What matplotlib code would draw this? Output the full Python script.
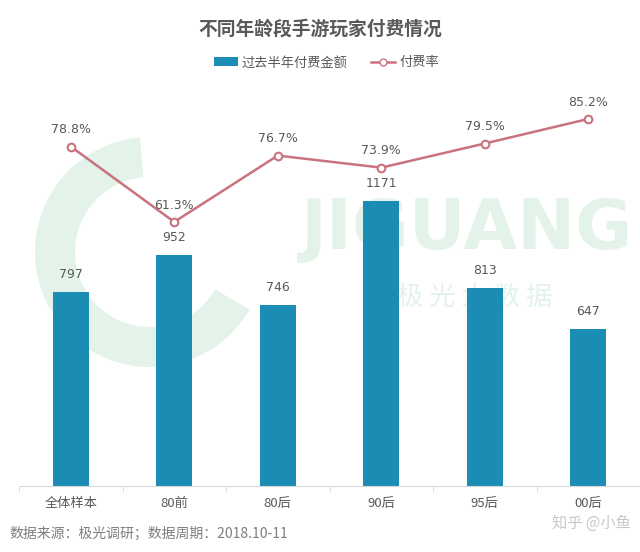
import matplotlib
matplotlib.use("Agg")
import matplotlib.pyplot as plt
from matplotlib.patches import Wedge
from matplotlib.lines import Line2D
from matplotlib.patches import Patch

plt.rcParams['font.family'] = ['Noto Sans CJK SC', 'DejaVu Sans']

# data
categories = ['全体样本', '80前', '80后', '90后', '95后', '00后']
pay_amount = [797, 952, 746, 1171, 813, 647]
pay_rate = [78.8, 61.3, 76.7, 73.9, 79.5, 85.2]

bar_color = '#1b8db4'
line_color = '#c8737e'
text_gray = '#595959'
mark_green = '#e4f3e9'

fig = plt.figure(figsize=(6.4, 5.52), dpi=100)
fig.patch.set_facecolor('white')

ax = fig.add_axes([19 / 640, 66 / 552, 621 / 640, 386 / 552])
ax.set_facecolor('none')
x = list(range(len(categories)))

# faint watermark, kept behind the bars
ring = Wedge((150, 300), 115, 95, 330, width=40, transform=None,
             facecolor=mark_green, edgecolor='none', zorder=0.5, clip_on=False)
ax.add_artist(ring)
ax.text(0.47, 0.585, 'JIGUANG', transform=fig.transFigure, fontsize=50, fontweight='bold',
        color=mark_green, family='DejaVu Sans', ha='left', va='center', zorder=0.5)
ax.text(0.62, 0.462, '极 光 大 数 据', transform=fig.transFigure, fontsize=19,
        color=mark_green, ha='left', va='center', zorder=0.5)

bars = ax.bar(x, pay_amount, width=0.35, color=bar_color, zorder=2)
ax.set_xlim(-0.5, 5.43)
ax.set_ylim(0, 1588)
for xi, v in zip(x, pay_amount):
    ax.text(xi, v + 45, str(v), ha='center', va='bottom', fontsize=9, color=text_gray,
            family='DejaVu Sans', zorder=3)

ax2 = ax.twinx()
ax2.plot(x, pay_rate, color=line_color, lw=1.8, marker='o', markersize=5.5,
         markerfacecolor='white', markeredgecolor=line_color, markeredgewidth=1.5, zorder=3)
ax2.set_ylim(0, 89.6)
for xi, v in zip(x, pay_rate):
    ax2.text(xi, v + 2.4, f'{v}%', ha='center', va='bottom', fontsize=9, color=text_gray,
             family='DejaVu Sans')

for a in (ax, ax2):
    for s in ('top', 'right', 'left'):
        a.spines[s].set_visible(False)
    a.set_yticks([])
ax2.spines['bottom'].set_visible(False)
ax.spines['bottom'].set_color('#d9d9d9')
ax.set_xticks(x)
ax.set_xticklabels(categories, fontsize=9.5, color=text_gray)
ax.tick_params(axis='x', length=0, pad=8)
ax.set_xticks([i + 0.5 for i in range(-1, 6)], minor=True)
ax.tick_params(axis='x', which='minor', length=4, color='#d9d9d9')

fig.text(0.5, 0.948, '不同年龄段手游玩家付费情况', ha='center', va='center',
         fontsize=13.5, fontweight='bold', color=text_gray)

handles = [Patch(facecolor=bar_color, edgecolor='none'),
           Line2D([], [], color=line_color, lw=1.8, marker='o', markersize=5,
                  markerfacecolor='white', markeredgecolor=line_color)]
fig.legend(handles, ['过去半年付费金额', '付费率'], loc='center', bbox_to_anchor=(0.51, 0.886),
           ncol=2, frameon=False, fontsize=9.5, labelcolor=text_gray,
           handlelength=1.8, handletextpad=0.3, columnspacing=1.8)

fig.text(0.015, 0.02, '数据来源：极光调研；数据周期：2018.10-11', ha='left', va='bottom',
         fontsize=10, color='#7f7f7f', style='italic')
fig.text(0.985, 0.052, '知乎 @小鱼', ha='right', va='center', fontsize=11, color='#c8c8c8')

fig.savefig('out.png', dpi=100)
